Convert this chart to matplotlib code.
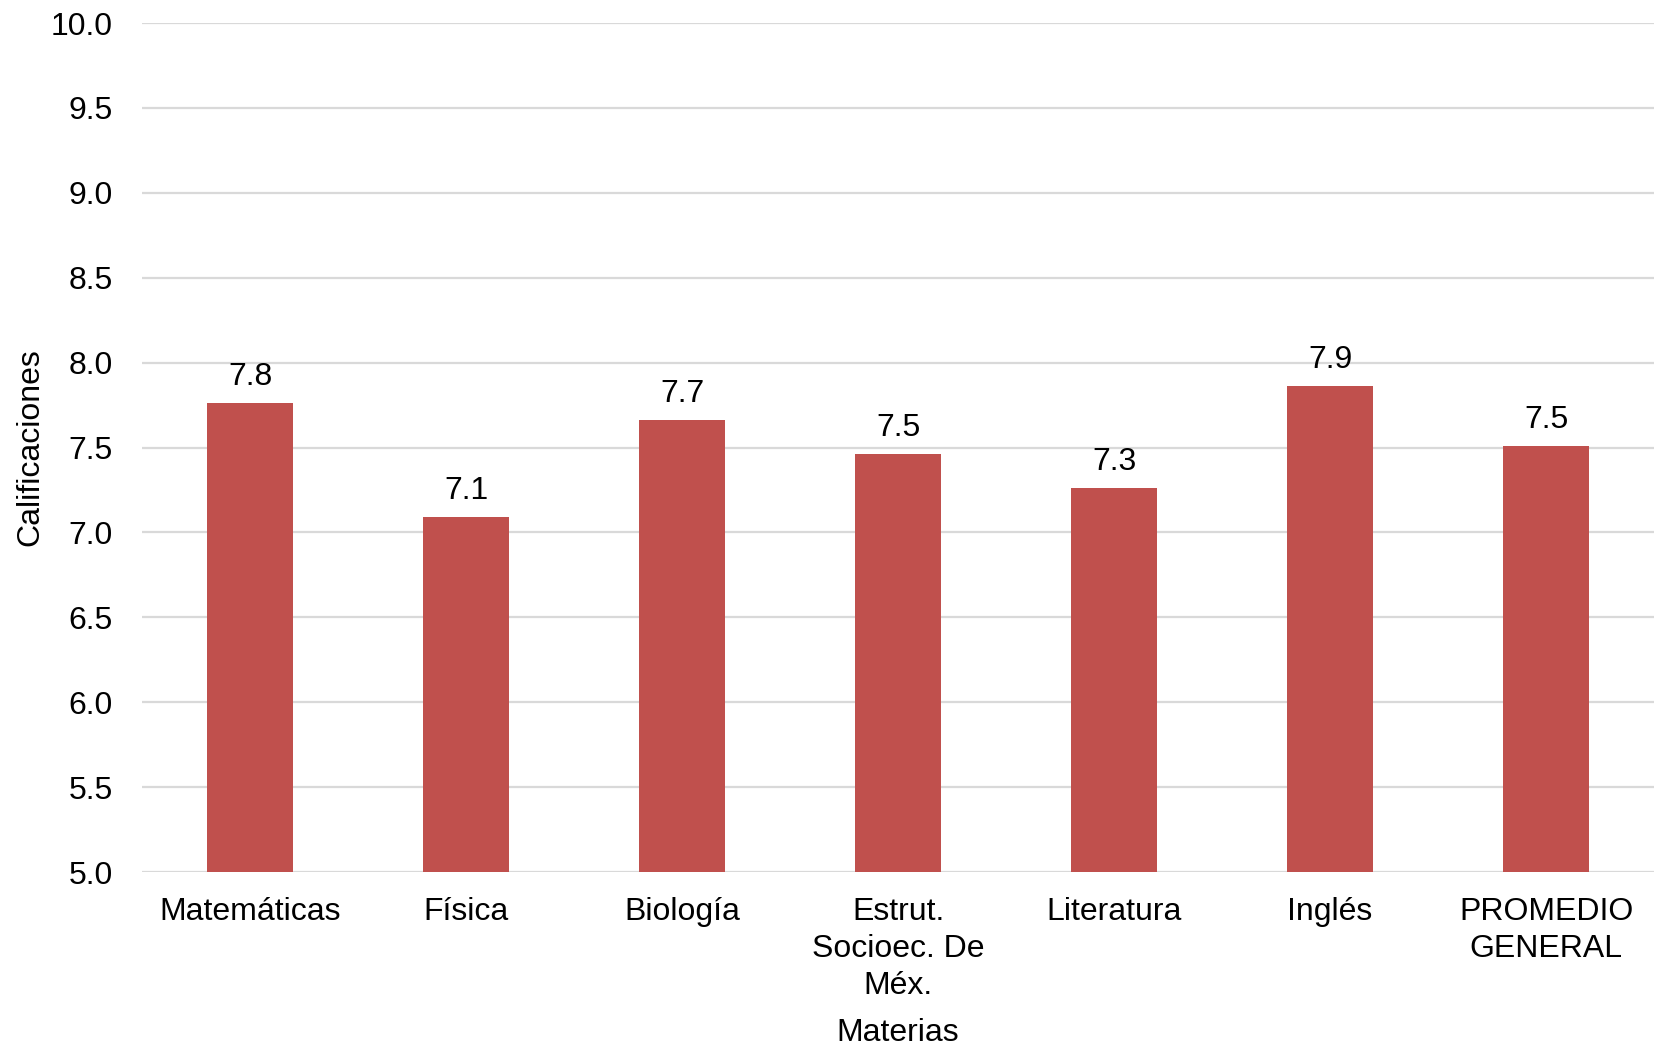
import matplotlib.pyplot as plt
import numpy as np

plt.rcParams['font.family'] = ['Liberation Sans', 'DejaVu Sans']

materias = ['Matemáticas', 'Física', 'Biología', 'Estrut.\nSocioec. De\nMéx.',
            'Literatura', 'Inglés', 'PROMEDIO\nGENERAL']
calificaciones = [7.76, 7.09, 7.66, 7.46, 7.26, 7.86, 7.51]
y_ticks = [5.0, 5.5, 6.0, 6.5, 7.0, 7.5, 8.0, 8.5, 9.0, 9.5, 10.0]

bar_color = '#C0504D'
grid_color = '#D9D9D9'
fs = 23

fig = plt.figure(figsize=(16.54, 10.46), dpi=100)
ax = fig.add_axes([0.086, 0.1663, 0.914, 0.8117])

x = np.arange(len(materias))
bars = ax.bar(x, np.array(calificaciones) - 5.0, bottom=5.0, width=0.4,
              color=bar_color, zorder=3)

for xi, val in zip(x, calificaciones):
    ax.annotate(f"{val:.1f}", (xi, val), xytext=(0, 8), textcoords='offset points',
                ha='center', va='bottom', fontsize=fs)

ax.set_xlim(-0.5, len(materias) - 0.5)
ax.set_ylim(5.0, 10.0)
ax.set_yticks(y_ticks)
ax.set_yticklabels([f"{t:.1f}" for t in y_ticks])
ax.set_xticks(x)
ax.set_xticklabels(materias, linespacing=1.3)
ax.tick_params(axis='both', length=0, labelsize=fs)
ax.tick_params(axis='x', pad=18)
ax.tick_params(axis='y', pad=21)

ax.grid(axis='y', color=grid_color, linewidth=1.6, zorder=0)
for s in ax.spines.values():
    s.set_visible(False)

ax.set_xlabel('Materias', fontsize=fs, labelpad=12)
ax.set_ylabel('Calificaciones', fontsize=fs, labelpad=4)

fig.savefig('out.png', dpi=100)
